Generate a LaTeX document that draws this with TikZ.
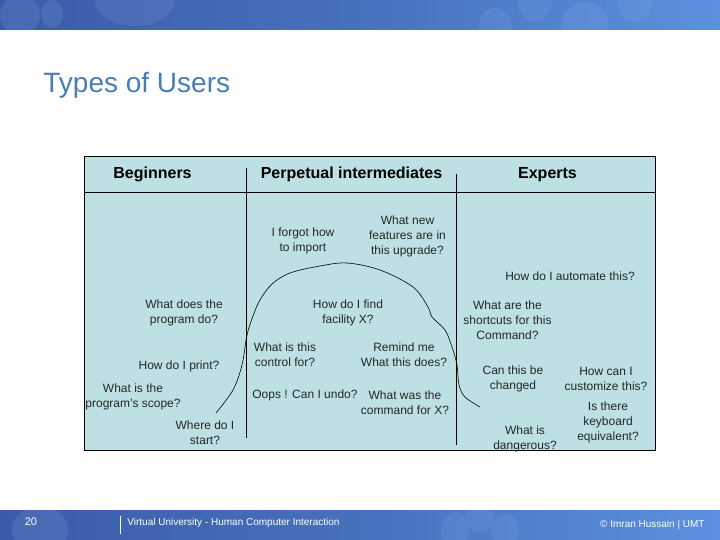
\documentclass[tikz,border=0pt]{standalone}
\usepackage{fontspec}
\setmainfont{Liberation Sans}
\usetikzlibrary{positioning,arrows.meta,calc}
\definecolor{panelblue}{HTML}{BCE0E4}
\definecolor{titleblue}{HTML}{4A7DB0}
\definecolor{banddark}{HTML}{3A5CA8}
\definecolor{bandlight}{HTML}{5C90DE}

\begin{document}
\begin{tikzpicture}[
    x=1pt,
    y=-1pt,
    thick,
    panel/.style={
        rectangle,
        draw=black,
        fill=panelblue,
        line width=0.9pt,
        minimum width=571pt,
        minimum height=294pt,
        inner sep=0pt
    },
    head/.style={
        anchor=base,
        inner sep=0pt,
        font=\fontsize{16}{19}\selectfont\bfseries
    },
    ask/.style={
        align=center,
        inner sep=0pt,
        font=\fontsize{12}{15}\selectfont,
        text=black!85
    },
    foot/.style={
        text=white,
        inner sep=0pt,
        anchor=west,
        font=\fontsize{10}{12}\selectfont
    },
    blob/.style={fill=bandlight!70!white, opacity=0.16}
]

\useasboundingbox (0,0) rectangle (720,540);

% bands
\begin{scope}
\clip (0,0) rectangle (720,30);
\shade[left color=banddark, right color=bandlight, middle color=banddark!60!bandlight] (0,0) rectangle (720,30);
\fill[blob] (20,15) ellipse (20 and 20);
\fill[blob] (52,14) ellipse (11 and 14);
\fill[blob] (135,0) ellipse (40 and 26);
\fill[blob] (495,30) ellipse (17 and 22);
\fill[blob] (535,0) ellipse (17 and 22);
\fill[blob] (585,26) ellipse (24 and 24);
\fill[blob] (635,0) ellipse (18 and 22);
\end{scope}

\begin{scope}
\clip (0,510) rectangle (720,540);
\shade[left color=banddark, right color=bandlight, middle color=banddark!60!bandlight] (0,510) rectangle (720,540);
\fill[blob] (40,530) ellipse (28 and 24);
\fill[blob] (455,530) ellipse (14 and 18);
\fill[blob] (480,516) ellipse (14 and 16);
\fill[blob] (505,530) ellipse (14 and 16);
\end{scope}

\node[anchor=west,inner sep=0pt,text=titleblue,font=\fontsize{28}{32}\selectfont] (title) at (43,85) {Types of Users};

\node[panel] (board) at (369.5,303) {};

% column rules
\draw[line width=0.9pt] (board.west |- 0,192) -- (board.east |- 0,192);
\draw[line width=0.9pt] (246,168) -- (246,438);
\draw[line width=0.9pt] (456,174) -- (456,445);

% the hump
\draw[line width=0.6pt] plot[smooth,tension=0.55] coordinates {
    (216,413) (233,390) (242,365) (247,335) (253,316) (260,300) (272,284)
    (290,273) (320,266) (347,263) (380,270) (413,287) (428,307) (432,317)
    (445,330) (452,347) (457,365) (459,385) (465,397) (480,407)};

% headers
\node[head] (beginners) at (152.5,179) {Beginners};
\node[head] (perpetual) at (351.5,179) {Perpetual intermediates};
\node[head] (experts) at (547.5,179) {Experts};

% beginners
\node[ask] (doesprog) at (184,313) {What does the\\program do?};
\node[ask] (print) at (179,366) {How do I print?};
\node[ask] (scope) at (133,397) {What is the\\program's scope?};
\node[ask] (start) at (205,433) {Where do I\\start?};

% intermediates
\node[ask] (forgot) at (303,241) {I forgot how\\to import};
\node[ask] (features) at (407.5,236) {What new\\features are in\\this upgrade?};
\node[ask] (facility) at (348,313) {How do I find\\facility X?};
\node[ask] (control) at (285,355) {What is this\\control for?};
\node[ask] (remind) at (404,355) {Remind me\\What this does?};
\node[ask] (undo) at (305,395) {Oops ! Can I undo?};
\node[ask] (wascmd) at (405,403) {What was the\\command for X?};

% experts
\node[ask] (automate) at (570,276) {How do I automate this?};
\node[ask] (shortcuts) at (507.5,320) {What are the\\shortcuts for this\\Command?};
\node[ask] (changed) at (513,379) {Can this be\\changed};
\node[ask] (customize) at (606,379) {How can I\\customize this?};
\node[ask] (keyboard) at (608,422) {Is there\\keyboard\\equivalent?};
\node[ask] (danger) at (525,439) {What is\\dangerous?};

% footer
\node[foot,anchor=center,font=\fontsize{11}{13}\selectfont] (page) at (31,522) {20};
\coordinate (tickup) at (120.5,516);
\coordinate (tickdn) at (120.5,534);
\draw[white,line width=0.8pt] (tickup) -- (tickdn);
\node[foot] (course) at (127,523) {Virtual University - Human Computer Interaction};
\node[foot,anchor=east] (credit) at (705,525) {© Imran Hussain | UMT};

\end{tikzpicture}
\end{document}
